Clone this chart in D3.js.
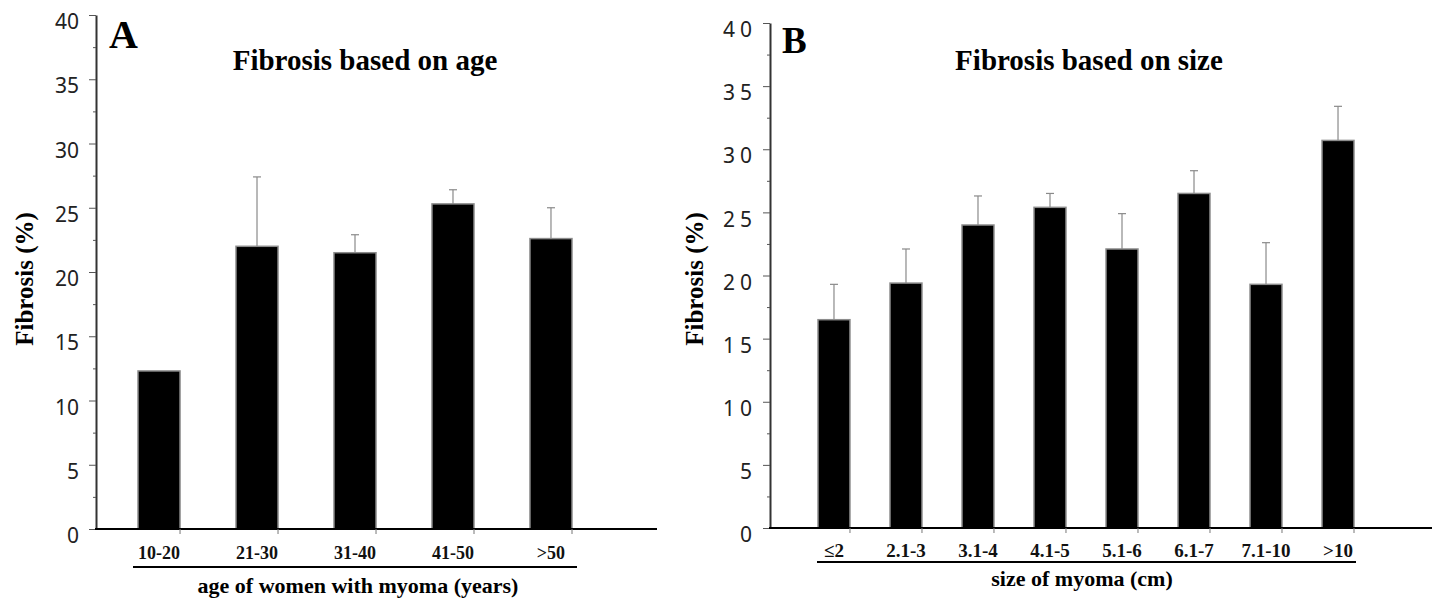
<!DOCTYPE html>
<html>
<head>
<meta charset="utf-8">
<script src="https://cdn.jsdelivr.net/npm/d3@7"></script>
<style>
  body { margin: 0; background: #fff; }
  .ytick text { font-family: "Noto Sans", sans-serif; font-size: 21px; fill: #222; }
  .xtick text { font-family: "Liberation Serif", "Times New Roman", serif; font-weight: bold; fill: #111; }
  .serif { font-family: "Liberation Serif", "Times New Roman", serif; font-weight: bold; fill: #000; }
</style>
</head>
<body>
<svg width="1435" height="598"></svg>
<script>
// panel A: fibrosis by age group
const ageGroups = ["10-20", "21-30", "31-40", "41-50", ">50"];
const ageMean = [12.3, 22.0, 21.5, 25.3, 22.6];
const ageErr = [0, 5.4, 1.4, 1.1, 2.4];

// panel B: fibrosis by myoma size
const sizeGroups = ["≤2", "2.1-3", "3.1-4", "4.1-5", "5.1-6", "6.1-7", "7.1-10", ">10"];
const sizeMean = [16.5, 19.4, 24.0, 25.4, 22.1, 26.5, 19.3, 30.7];
const sizeErr = [2.8, 2.7, 2.3, 1.1, 2.8, 1.8, 3.3, 2.7];

const yTicks = [0, 5, 10, 15, 20, 25, 30, 35, 40];
const yMinor = [2.5, 7.5, 12.5, 17.5, 22.5, 27.5, 32.5, 37.5];

let svg = d3.select("svg");

function drawPanel(p) {
  let g = svg.append("g");
  let data = p.groups.map(function(c, i) { return {cat: c, mean: p.mean[i], err: p.err[i]}; });

  let x = d3.scaleBand()
    .domain(p.groups)
    .range(p.xRange)
    .paddingInner(p.pad)
    .paddingOuter(0);
  let y = d3.scaleLinear().domain([0, 40]).range(p.yRange);

  // y axis, major + minor ticks
  let yAx = g.append("g")
    .attr("class", "ytick")
    .attr("transform", "translate(" + p.axisX + ",0)")
    .call(d3.axisLeft(y).tickValues(yTicks).tickSize(7).tickPadding(p.labelPad).tickSizeOuter(0));
  yAx.select(".domain").attr("stroke", "#333").attr("stroke-width", 2);
  yAx.selectAll(".tick line").attr("stroke", "#555");
  yAx.selectAll(".tick text")
    .attr("y", 7)
    .style("letter-spacing", p.spacing + "px")
    .attr("dx", p.spacing + "px");

  g.append("g")
    .attr("transform", "translate(" + p.axisX + ",0)")
    .call(d3.axisLeft(y).tickValues(yMinor).tickSize(3).tickFormat(""))
    .call(function(s) {
      s.select(".domain").remove();
      s.selectAll("line").attr("stroke", "#555");
    });

  // bars
  g.selectAll(".bar")
    .data(data)
    .enter().append("rect")
      .attr("class", "bar")
      .attr("x", function(d) { return x(d.cat); })
      .attr("y", function(d) { return y(d.mean); })
      .attr("width", x.bandwidth())
      .attr("height", function(d) { return y(0) - y(d.mean); })
      .attr("fill", "#000")
      .attr("stroke", "#8c8c8c")
      .attr("stroke-width", 1.5);

  // error bars
  let eb = g.selectAll(".err")
    .data(data.filter(function(d) { return d.err > 0; }))
    .enter().append("g")
      .attr("class", "err")
      .attr("stroke", "#8a8a8a")
      .attr("stroke-width", 1.2);
  eb.append("line")
    .attr("x1", function(d) { return x(d.cat) + x.bandwidth() / 2; })
    .attr("x2", function(d) { return x(d.cat) + x.bandwidth() / 2; })
    .attr("y1", function(d) { return y(d.mean); })
    .attr("y2", function(d) { return y(d.mean + d.err); });
  eb.append("line")
    .attr("x1", function(d) { return x(d.cat) + x.bandwidth() / 2 - 4; })
    .attr("x2", function(d) { return x(d.cat) + x.bandwidth() / 2 + 4; })
    .attr("y1", function(d) { return y(d.mean + d.err); })
    .attr("y2", function(d) { return y(d.mean + d.err); });

  // baseline
  g.append("line")
    .attr("x1", p.axisX - 1)
    .attr("x2", p.baseEnd)
    .attr("y1", y(0))
    .attr("y2", y(0))
    .attr("stroke", "#000")
    .attr("stroke-width", 2);

  // small ticks at the right edge of each bar
  g.selectAll(".xt")
    .data(p.groups)
    .enter().append("line")
      .attr("x1", function(d) { return x(d) + x.bandwidth(); })
      .attr("x2", function(d) { return x(d) + x.bandwidth(); })
      .attr("y1", y(0))
      .attr("y2", y(0) + 5)
      .attr("stroke", "#777");

  // category labels
  let xAx = g.append("g")
    .attr("class", "xtick")
    .attr("transform", "translate(0," + y(0) + ")")
    .call(d3.axisBottom(x).tickSize(0).tickPadding(p.xPad));
  xAx.select(".domain").remove();
  xAx.selectAll("text").style("font-size", p.xFont + "px");

  // line under labels + axis title
  g.append("line")
    .attr("x1", p.underline[0])
    .attr("x2", p.underline[1])
    .attr("y1", p.underY)
    .attr("y2", p.underY)
    .attr("stroke", "#000")
    .attr("stroke-width", 2);

  g.append("text")
    .attr("class", "serif")
    .attr("x", p.xTitleX)
    .attr("y", p.xTitleY)
    .attr("text-anchor", "middle")
    .style("font-size", "22px")
    .text(p.xTitle);

  g.append("text")
    .attr("class", "serif")
    .attr("transform", "translate(" + p.yTitleX + ",279) rotate(-90)")
    .attr("text-anchor", "middle")
    .style("font-size", "25px")
    .text("Fibrosis (%)");

  g.append("text")
    .attr("class", "serif")
    .attr("x", p.letterX)
    .attr("y", p.letterY)
    .style("font-size", p.letterSize + "px")
    .text(p.letter);

  g.append("text")
    .attr("class", "serif")
    .attr("x", p.titleX)
    .attr("y", 70)
    .attr("text-anchor", "middle")
    .style("font-size", "29px")
    .text(p.title);
}

drawPanel({
  groups: ageGroups, mean: ageMean, err: ageErr,
  xRange: [138, 572], pad: 0.571, yRange: [529, 15],
  axisX: 96, baseEnd: 657, labelPad: 10, spacing: 0,
  xPad: 17, xFont: 18,
  underline: [133, 577], underY: 567,
  xTitle: "age of women with myoma (years)", xTitleX: 358, xTitleY: 593,
  yTitleX: 33, letter: "A", letterX: 109, letterY: 48, letterSize: 40,
  title: "Fibrosis based on age", titleX: 365
});

drawPanel({
  groups: sizeGroups, mean: sizeMean, err: sizeErr,
  xRange: [818, 1354], pad: 0.556, yRange: [528, 23],
  axisX: 770, baseEnd: 1432, labelPad: 11, spacing: 5,
  xPad: 16, xFont: 19,
  underline: [817, 1356], underY: 562,
  xTitle: "size of myoma (cm)", xTitleX: 1082, xTitleY: 586,
  yTitleX: 703, letter: "B", letterX: 782, letterY: 53, letterSize: 37,
  title: "Fibrosis based on size", titleX: 1089
});
</script>
</body>
</html>
